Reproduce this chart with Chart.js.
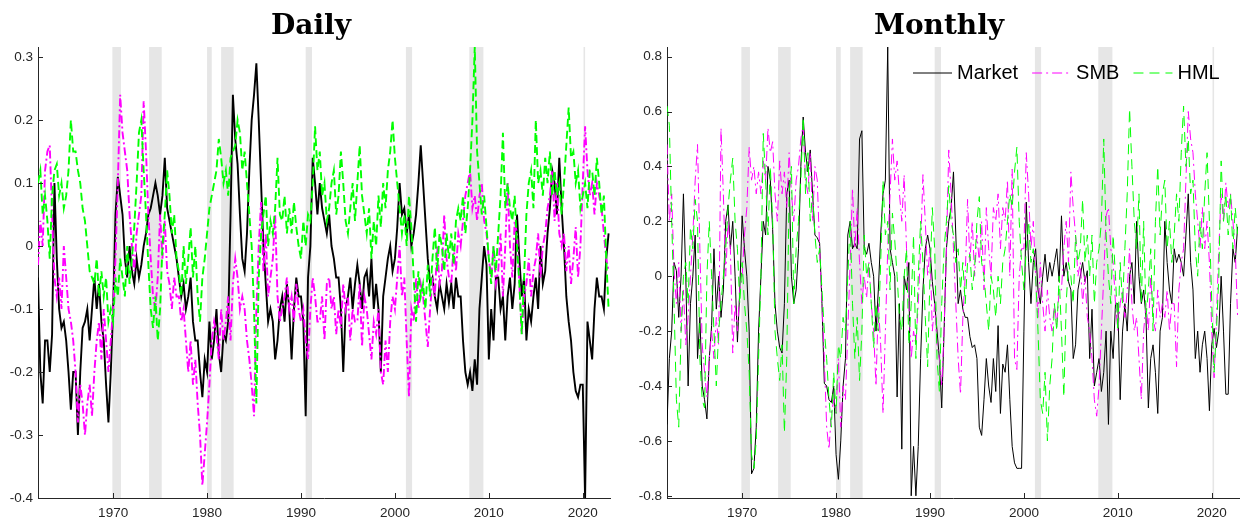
<!DOCTYPE html>
<html>
<head>
<meta charset="utf-8">
<script src="https://cdn.jsdelivr.net/npm/chart.js@4.4.0/dist/chart.umd.min.js"></script>
<style>
  body { margin: 0; background: #fff; width: 1241px; height: 520px; overflow: hidden; position: relative; }
  canvas { position: absolute; top: 0; }
  .title { position: absolute; top: 11px; font-family: "DejaVu Serif", serif; font-weight: bold; font-size: 28px; line-height: 28px; transform: translateX(-50%); white-space: nowrap; color: #000; }
</style>
</head>
<body>
<canvas id="daily" width="620" height="520" style="left:0"></canvas>
<canvas id="monthly" width="621" height="520" style="left:620px"></canvas>
<div class="title" style="left:311px">Daily</div>
<div class="title" style="left:939px">Monthly</div>
<script>
// quarterly readings, 1962 Q1 .. 2022 Q4
const startYear = 1962;
const yearTicks = [1970, 1980, 1990, 2000, 2010, 2020];
const dailyYTicks = [-0.4, -0.3, -0.2, -0.1, 0, 0.1, 0.2, 0.3];
const monthlyYTicks = [-0.8, -0.6, -0.4, -0.2, 0, 0.2, 0.4, 0.6, 0.8];
const seriesNames = ['Market', 'SMB', 'HML'];

// NBER recessions
const recessionStart = [1969.92, 1973.83, 1980.0, 1981.5, 1990.5, 2001.17, 2007.92, 2020.08];
const recessionEnd   = [1970.83, 1975.17, 1980.5, 1982.83, 1991.17, 2001.83, 2009.42, 2020.25];

const dailyMarket = [
  -0.05,-0.2,-0.25,-0.15, -0.15,-0.2,-0.14,0.1, -0.02,-0.1,-0.13,-0.12, -0.15,-0.2,-0.26,-0.2,
  -0.2,-0.3,-0.2,-0.13, -0.12,-0.1,-0.15,-0.1, -0.05,-0.1,-0.06,-0.12, -0.15,-0.22,-0.28,-0.2,
  -0.1,0.05,0.11,0.08, 0.05,-0.02,-0.05,0, -0.04,-0.06,-0.02,-0.05, -0.03,0.0,0.02,0.05,
  0.06,0.08,0.1,0.08, 0.05,0.08,0.14,0.06, 0.04,0.02,0.0,-0.02, -0.05,-0.08,-0.06,-0.1,
  -0.08,-0.05,-0.12,-0.15, -0.15,-0.2,-0.24,-0.18, -0.2,-0.12,-0.18,-0.15, -0.1,-0.17,-0.2,-0.14,
  -0.15,-0.12,0.05,0.24, 0.17,0.13,0.05,-0.02, -0.04,0.02,0.12,0.2, 0.24,0.29,0.2,0.1,
  0.0,-0.06,-0.12,-0.1, -0.12,-0.18,-0.15,-0.1, -0.08,-0.12,-0.06,-0.1, -0.18,-0.1,-0.05,-0.08,
  -0.08,-0.12,-0.27,-0.05, 0.0,0.14,0.1,0.05, 0.1,0.06,0.04,0.02, 0.05,0.0,-0.02,-0.05,
  -0.05,-0.1,-0.2,-0.1, -0.08,-0.05,-0.1,-0.06, -0.03,-0.06,-0.1,-0.05, -0.04,-0.08,-0.02,-0.1,
  -0.06,-0.1,-0.2,-0.08, -0.05,-0.02,0.0,-0.04, -0.02,0.03,0.1,0.05, 0.06,0.02,0.05,0.0,
  0.02,0.05,0.1,0.16, 0.1,0.04,-0.02,-0.06, -0.05,-0.08,-0.1,-0.06, -0.08,-0.1,-0.06,-0.09,
  -0.06,-0.1,-0.05,-0.08, -0.08,-0.15,-0.2,-0.22, -0.2,-0.23,-0.18,-0.22, -0.1,-0.05,0.0,-0.03,
  -0.18,-0.1,-0.15,-0.05, -0.05,-0.1,-0.08,-0.15, -0.08,-0.05,-0.1,-0.06, 0.05,-0.02,-0.08,-0.05,
  -0.15,-0.1,-0.12,-0.08, -0.05,-0.1,0.0,-0.06, -0.04,0.02,0.06,0.12, 0.1,0.05,0.14,0.06,
  0.0,-0.08,-0.12,-0.15, -0.2,-0.23,-0.24,-0.22, -0.22,-0.4,-0.12,-0.15, -0.18,-0.1,-0.05,-0.08,
  -0.08,-0.1,-0.02,0.02
];
const dailySMB = [
  -0.03,0.04,0.0,0.12, 0.15,0.16,0.05,-0.05, -0.08,-0.05,-0.1,0.0, -0.05,-0.1,-0.12,-0.15,
  -0.2,-0.28,-0.22,-0.25, -0.3,-0.25,-0.22,-0.27, -0.2,-0.15,-0.12,-0.18, -0.1,-0.15,-0.2,-0.15,
  -0.1,-0.02,0.1,0.24, 0.18,0.15,0.12,0.05, 0.0,-0.04,0.02,0.05, 0.08,0.23,0.15,0.05,
  -0.02,-0.08,-0.1,-0.05, 0.05,-0.02,0.04,-0.04, -0.06,-0.1,-0.05,-0.08, -0.08,-0.12,-0.1,-0.15,
  -0.2,-0.15,-0.22,-0.18, -0.25,-0.3,-0.38,-0.33, -0.28,-0.22,-0.15,-0.12, -0.14,-0.18,-0.1,-0.15,
  -0.12,-0.08,-0.15,-0.06, -0.02,-0.05,-0.1,-0.08, -0.1,-0.15,-0.18,-0.22, -0.27,-0.1,0.0,0.07,
  -0.04,0.02,-0.08,-0.05, -0.02,0.05,-0.08,-0.12, -0.1,-0.08,-0.05,-0.1, -0.08,-0.12,-0.06,-0.1,
  -0.12,-0.1,-0.15,-0.18, -0.1,-0.05,-0.08,-0.12, -0.12,-0.08,-0.15,-0.06, -0.05,-0.1,-0.08,-0.14,
  -0.1,-0.13,-0.06,-0.1, -0.08,-0.15,-0.1,-0.12, -0.12,-0.06,-0.16,-0.08, -0.1,-0.14,-0.18,-0.12,
  -0.14,-0.1,-0.2,-0.22, -0.15,-0.2,-0.12,-0.08, -0.1,-0.05,0.0,-0.08, -0.05,-0.15,-0.24,-0.1,
  -0.12,-0.05,-0.1,-0.06, -0.08,-0.12,-0.16,-0.1, -0.05,-0.08,0.0,-0.06, -0.04,0.05,-0.02,-0.05,
  -0.06,0.0,-0.04,0.02, 0.0,0.04,0.08,0.1, 0.12,0.06,0.08,0.04, 0.08,0.1,0.04,0.02,
  -0.02,-0.05,0.0,-0.06, -0.04,0.02,-0.08,0.0, 0.1,0.0,-0.05,0.04, 0.02,-0.06,-0.14,-0.08,
  -0.06,-0.02,-0.08,-0.04, -0.02,0.02,-0.05,0.0, 0.02,0.06,0.08,0.12, 0.04,0.1,0.02,0.0,
  0.02,-0.04,0.0,-0.06, -0.02,0.03,-0.05,0.0, 0.1,0.19,0.12,0.08, 0.1,0.05,0.1,0.08,
  0.06,0.02,-0.02,-0.04
];
const dailyHML = [
  0.1,0.12,0.05,0.08, 0.04,-0.02,0.08,0.12, 0.13,0.08,0.1,0.06, 0.08,0.12,0.2,0.15,
  0.15,0.12,0.1,0.06, 0.04,0.0,-0.04,-0.05, -0.06,-0.02,-0.08,-0.04, -0.08,-0.05,-0.12,-0.1,
  -0.12,-0.05,-0.08,-0.02, -0.05,-0.08,0.0,-0.06, -0.02,0.03,0.1,0.18, 0.2,0.12,0.05,-0.03,
  -0.1,-0.13,-0.08,-0.15, -0.1,0.0,0.05,0.12, 0.08,0.02,0.05,-0.02, -0.04,-0.08,0.0,-0.06,
  -0.02,0.03,-0.05,0.0, -0.08,-0.12,-0.05,-0.02, 0.02,0.06,0.08,0.1, 0.12,0.17,0.14,0.1,
  0.12,0.08,0.14,0.15, 0.16,0.2,0.18,0.12, 0.15,0.1,0.05,0.0, -0.1,-0.25,-0.05,0.02,
  0.05,0.08,0.0,0.04, 0.02,0.06,0.14,0.05, 0.04,0.08,0.02,0.06, 0.02,0.07,0.03,0.0,
  -0.02,0.04,0.0,0.05, 0.04,0.1,0.19,0.12, 0.15,0.08,0.1,0.04, 0.06,0.1,0.12,0.05,
  0.08,0.15,0.1,0.04, 0.02,0.06,0.1,0.04, 0.1,0.16,0.08,0.05, 0.02,0.06,-0.02,0.04,
  0.0,0.08,0.03,0.1, 0.06,0.12,0.15,0.2, 0.14,0.1,0.06,0.02, 0.05,0.0,0.08,0.03,
  -0.05,-0.12,-0.04,-0.08, -0.06,-0.1,-0.03,-0.08, -0.02,0.03,-0.04,0.02, 0.0,-0.04,0.02,-0.02,
  0.02,-0.03,0.04,0.06, 0.04,0.08,0.02,0.06, 0.12,0.2,0.316,0.15, 0.1,0.05,0.08,0.03,
  -0.02,-0.06,0.0,-0.04, 0.02,0.08,0.18,0.06, 0.1,0.06,0.04,0.08, 0.0,-0.06,-0.14,-0.05,
  0.05,0.1,0.12,0.06, 0.2,0.1,0.12,0.08, 0.14,0.1,0.15,0.08, 0.12,0.08,0.1,0.05,
  0.1,0.16,0.22,0.14, 0.15,0.1,0.12,0.06, 0.08,0.1,0.06,0.12, 0.12,0.08,0.14,0.1,
  0.05,0.08,-0.02,-0.1
];

const monthlyMarket = [
  -0.54,-0.3,-0.2,0.05, 0.02,-0.15,0.0,0.3, 0.0,-0.4,-0.1,0.0, 0.15,-0.3,-0.15,-0.4,
  -0.45,-0.52,-0.3,-0.18, 0.1,-0.12,0.0,-0.15, -0.05,0.2,0.26,0.1, 0.2,0.0,-0.24,-0.05,
  0.22,0.1,0.0,-0.2, -0.72,-0.7,-0.55,-0.2, 0.0,0.2,0.15,0.4, 0.35,0.17,-0.1,-0.2,
  -0.26,-0.28,-0.1,0.3, 0.35,0.0,-0.1,-0.05, 0.1,0.4,0.58,0.45, 0.38,0.46,0.3,0.15,
  0.14,0.12,-0.1,-0.39, -0.4,-0.45,-0.46,-0.4, -0.65,-0.74,-0.6,-0.4, -0.3,0.15,0.2,0.1,
  0.12,0.1,0.5,0.53, 0.1,0.08,0.12,0.05, 0.0,-0.2,-0.05,0.15, 0.3,0.35,0.835,0.1,
  0.05,0.0,-0.44,-0.1, -0.63,0.0,-0.05,0.05, -0.8,-0.62,-0.8,-0.62, -0.3,-0.05,0.1,0.15,
  0.1,-0.02,-0.1,-0.2, -0.3,-0.48,-0.2,0.1, 0.2,0.25,0.38,0.15, -0.1,-0.05,-0.12,-0.15,
  -0.15,-0.22,-0.26,-0.25, -0.3,-0.55,-0.58,-0.45, -0.3,-0.4,-0.46,-0.3, -0.42,-0.18,-0.5,-0.32,
  -0.35,-0.25,-0.45,-0.62, -0.68,-0.7,-0.7,-0.7, -0.2,0.27,0.05,-0.1, 0.05,0.1,-0.05,-0.1,
  0.0,0.08,-0.02,0.05, 0.0,0.05,0.1,-0.02, 0.22,0.0,0.05,-0.02, -0.05,-0.3,-0.25,-0.05,
  0.0,0.05,-0.02,0.02, -0.3,-0.12,-0.4,-0.35, -0.3,-0.42,-0.35,-0.2, -0.54,-0.2,-0.3,-0.1,
  -0.1,-0.45,-0.2,-0.1, -0.2,0.0,0.05,-0.1, 0.2,0.0,-0.1,-0.05, -0.15,-0.48,-0.3,-0.25,
  -0.35,-0.5,-0.2,-0.15, 0.2,0.05,-0.05,-0.1, 0.1,0.05,0.08,0.05, 0.0,0.15,0.3,0.05,
  -0.05,-0.3,-0.2,-0.35, -0.25,-0.2,-0.3,-0.49, -0.25,-0.19,-0.26,-0.2, 0.0,-0.2,-0.43,-0.43,
  -0.1,0.1,0.05,0.18
];
const monthlySMB = [
  0.48,0.2,0.3,0.02, -0.1,0.05,-0.2,-0.05, -0.25,-0.15,0.0,0.15, 0.35,0.48,0.1,-0.25,
  -0.35,-0.44,-0.3,-0.2, -0.3,-0.15,-0.25,0.54, 0.3,0.0,0.2,0.1, -0.28,-0.1,-0.2,-0.05,
  0.0,0.15,0.25,0.47, 0.35,0.4,0.3,0.38, 0.3,0.42,0.35,0.54, 0.45,0.49,0.3,0.2,
  0.42,0.3,0.38,0.25, 0.45,0.3,0.2,0.35, 0.4,0.5,0.55,0.35, 0.3,0.45,0.2,0.4,
  0.35,0.1,-0.1,-0.3, -0.55,-0.63,-0.5,-0.45, -0.5,-0.3,-0.55,-0.4, -0.45,-0.2,0.05,0.32,
  0.1,0.25,0.05,-0.1, 0.0,-0.08,0.05,-0.1, -0.2,-0.4,-0.1,-0.25, -0.5,-0.2,0.1,0.3,
  0.5,0.35,0.42,0.3, 0.2,0.37,0.1,-0.1, -0.3,-0.2,-0.25,-0.1, 0.1,0.37,0.2,0.0,
  0.1,-0.2,-0.1,-0.25, -0.3,-0.4,-0.2,0.1, 0.46,0.3,0.1,-0.1, -0.3,-0.43,-0.15,0.0,
  0.28,0.05,0.2,0.0, 0.15,0.05,0.2,-0.05, 0.25,0.1,0.0,0.25, 0.2,0.3,0.1,0.25,
  0.2,0.35,0.0,0.39, -0.3,-0.34,0.0,0.1, 0.1,0.45,0.3,0.1, 0.2,0.0,-0.15,0.05,
  -0.1,-0.2,-0.05,-0.15, -0.2,-0.1,-0.18,-0.05, -0.05,0.1,0.2,0.05, 0.38,0.25,0.15,0.0,
  0.05,-0.1,0.0,-0.15, -0.2,-0.3,-0.45,-0.51, -0.4,-0.2,0.0,0.22, 0.25,0.1,0.05,-0.1,
  -0.2,-0.1,-0.05,-0.15, -0.05,0.1,-0.1,-0.2, -0.15,-0.3,-0.45,-0.2, -0.1,-0.2,0.0,-0.15,
  -0.2,-0.05,-0.15,-0.1, -0.15,-0.05,-0.2,-0.1, -0.1,-0.33,-0.05,0.05, 0.1,0.35,0.6,0.5,
  0.45,0.3,0.2,0.1, 0.25,0.1,0.2,0.05, -0.2,-0.37,-0.15,0.1, 0.3,0.2,0.34,0.25,
  0.3,0.2,0.1,-0.15
];
const monthlyHML = [
  0.62,0.55,0.2,-0.1, -0.45,-0.55,-0.2,0.0, 0.05,-0.1,0.18,0.1, 0.28,0.2,-0.3,-0.45,
  -0.48,0.0,0.2,0.0, -0.2,-0.4,-0.2,-0.1, 0.0,0.1,0.25,0.35, 0.43,0.2,0.1,-0.1,
  0.05,-0.1,-0.2,-0.35, -0.65,-0.7,-0.6,-0.3, 0.0,0.52,0.35,0.15, 0.4,0.2,-0.2,-0.3,
  -0.38,-0.25,-0.57,-0.3, 0.3,0.4,-0.1,0.1, 0.2,0.35,0.58,0.3, 0.45,0.2,0.3,0.15,
  0.05,0.1,-0.05,-0.2, -0.3,-0.45,-0.55,-0.35, -0.5,-0.25,-0.3,-0.15, -0.2,0.0,0.2,-0.1,
  -0.3,-0.15,-0.38,-0.2, 0.15,0.0,0.05,-0.1, -0.26,-0.1,-0.2,0.05, 0.35,0.15,0.2,-0.05,
  0.23,0.13,0.0,-0.15, -0.2,0.0,0.1,-0.25, -0.1,0.15,-0.3,0.0, 0.2,0.05,-0.15,-0.33,
  0.0,0.25,0.1,-0.3, -0.42,-0.1,0.1,0.2, 0.33,0.2,0.15,0.05, 0.1,-0.05,0.05,-0.1,
  0.05,0.08,-0.05,0.03, 0.2,0.29,0.05,0.0, -0.1,-0.2,0.0,-0.05, -0.15,0.0,-0.1,0.05,
  0.1,0.2,0.3,0.25, 0.38,0.47,0.2,0.05, -0.05,0.1,0.2,0.05, 0.1,0.0,-0.2,-0.45,
  -0.5,-0.35,-0.6,-0.4, -0.3,-0.1,-0.2,0.0, -0.2,-0.44,-0.1,0.05, 0.0,-0.1,0.15,0.05,
  0.1,0.28,0.05,0.15, 0.0,0.15,-0.1,0.05, 0.1,0.2,0.5,0.15, 0.0,-0.1,0.15,0.0,
  -0.2,0.05,-0.1,0.1, 0.3,0.61,0.4,0.2, 0.1,0.3,-0.1,0.2, -0.15,-0.05,0.1,-0.2,
  0.2,0.4,0.15,0.3, 0.35,0.1,0.2,0.05, 0.15,0.3,0.2,0.45, 0.62,0.4,0.5,0.3,
  0.35,0.1,0.0,0.2, 0.1,0.3,0.45,0.2, -0.1,-0.35,-0.2,0.0, 0.42,0.2,0.3,0.15,
  0.3,0.1,0.25,0.15
];

const axisColor = '#262626';
const tickFont = { family: '"Liberation Sans", Arial, Helvetica, sans-serif', size: 13.5 };

// grey bars behind the lines
const recessionShade = {
  id: 'recessionShade',
  beforeDatasetsDraw(chart) {
    const { ctx, chartArea, scales: { x } } = chart;
    ctx.save();
    ctx.fillStyle = '#e6e6e6';
    recessionStart.forEach((s, i) => {
      const x0 = x.getPixelForValue(s);
      const x1 = x.getPixelForValue(recessionEnd[i]);
      ctx.fillRect(x0, chartArea.top, x1 - x0, chartArea.bottom - chartArea.top);
    });
    ctx.restore();
  }
};

// matlab style ticks pointing into the plot
const inwardTicks = {
  id: 'inwardTicks',
  afterDatasetsDraw(chart) {
    const { ctx, chartArea, scales: { x, y } } = chart;
    ctx.save();
    ctx.strokeStyle = axisColor;
    ctx.lineWidth = 1;
    ctx.beginPath();
    x.ticks.forEach(t => {
      const px = Math.round(x.getPixelForValue(t.value)) + 0.5;
      ctx.moveTo(px, chartArea.bottom);
      ctx.lineTo(px, chartArea.bottom - 5);
    });
    y.ticks.forEach(t => {
      const py = Math.round(y.getPixelForValue(t.value)) + 0.5;
      ctx.moveTo(chartArea.left, py);
      ctx.lineTo(chartArea.left + 5, py);
    });
    ctx.stroke();
    ctx.restore();
  }
};

// horizontal legend inside the top right of the plot
const lineLegend = {
  id: 'lineLegend',
  afterDatasetsDraw(chart, args, opts) {
    if (!opts.show) return;
    const { ctx, chartArea } = chart;
    ctx.save();
    ctx.font = '20px "Liberation Sans", Arial, sans-serif';
    ctx.textBaseline = 'middle';
    ctx.fillStyle = '#000';
    let x = chartArea.left + 246;
    const y = chartArea.top + 26;
    chart.data.datasets.forEach(ds => {
      ctx.strokeStyle = ds.borderColor;
      ctx.lineWidth = ds.borderWidth;
      ctx.setLineDash(ds.borderDash || []);
      ctx.beginPath();
      ctx.moveTo(x, y);
      ctx.lineTo(x + 39, y);
      ctx.stroke();
      ctx.setLineDash([]);
      ctx.fillText(ds.label, x + 44, y);
      x += 44 + ctx.measureText(ds.label).width + 14;
    });
    ctx.restore();
  }
};

function makeChart(id, values, yMin, yMax, yTicks, yAxisWidth, padRight, lw, dashes, showLegend) {
  const dates = values[0].map((_, i) => startYear + i / 4);
  const colors = ['#000000', '#ff00ff', '#00ff00'];
  const datasets = values.map((vals, k) => ({
    label: seriesNames[k],
    data: vals.map((v, i) => ({ x: dates[i], y: v })),
    borderColor: colors[k],
    borderWidth: lw,
    borderDash: dashes[k],
    pointRadius: 0,
    tension: 0,
    fill: false,
    order: 3 - k
  }));
  return new Chart(document.getElementById(id).getContext('2d'), {
    type: 'line',
    data: { datasets },
    plugins: [recessionShade, inwardTicks, lineLegend],
    options: {
      responsive: false,
      animation: false,
      devicePixelRatio: 1,
      layout: { padding: { left: 0, top: 47, right: padRight, bottom: 0 } },
      plugins: {
        legend: { display: false },
        tooltip: { enabled: false },
        lineLegend: { show: showLegend }
      },
      scales: {
        x: {
          type: 'linear',
          min: 1962,
          max: 2022.9,
          afterBuildTicks: a => { a.ticks = yearTicks.map(v => ({ value: v })); },
          afterFit: a => { a.height = 22; },
          grid: { display: false, drawTicks: false },
          border: { display: true, color: axisColor, width: 1 },
          ticks: { autoSkip: false, maxRotation: 0, padding: 7, color: axisColor, font: tickFont,
                   callback: v => String(v) }
        },
        y: {
          min: yMin,
          max: yMax,
          afterBuildTicks: a => { a.ticks = yTicks.map(v => ({ value: v })); },
          afterFit: a => { a.width = yAxisWidth; },
          grid: { display: false, drawTicks: false },
          border: { display: true, color: axisColor, width: 1 },
          ticks: { padding: 5, color: axisColor, font: tickFont,
                   callback: v => (v === 0 ? '0' : v.toFixed(1)) }
        }
      }
    }
  });
}

makeChart('daily', [dailyMarket, dailySMB, dailyHML], -0.4, 0.316, dailyYTicks, 38, 10, 1.9,
  [[], [8, 3, 2, 3], [8, 4]], false);
makeChart('monthly', [monthlyMarket, monthlySMB, monthlyHML], -0.808, 0.835, monthlyYTicks, 47, 2, 1,
  [[], [10, 4, 2, 4], [10, 6]], true);
</script>
</body>
</html>
